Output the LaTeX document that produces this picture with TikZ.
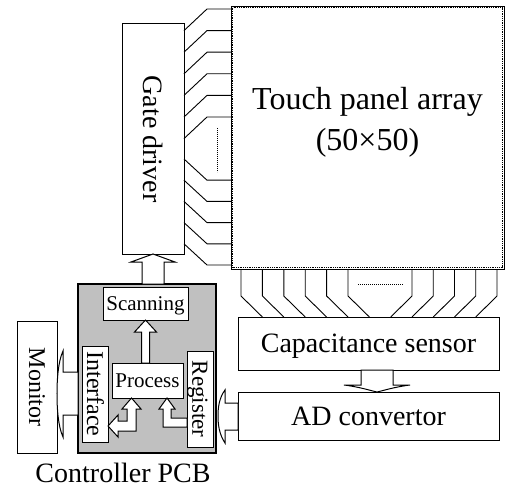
\documentclass[tikz,border=0pt]{standalone}
\usepackage{fontspec}
\setmainfont{Liberation Serif}
\usepackage{graphicx}
\definecolor{pcbgray}{RGB}{192,192,192}
\newcommand{\capbox}[1]{\raisebox{0pt}[0.66em][0pt]{#1}}
\newcommand{\vtxt}[1]{\rotatebox{-90}{\capbox{#1}}}
\newcommand{\fsA}{\fontsize{32bp}{40bp}\selectfont}
\newcommand{\fsB}{\fontsize{28bp}{34bp}\selectfont}
\newcommand{\fsC}{\fontsize{24bp}{29bp}\selectfont}
\newcommand{\fsD}{\fontsize{23bp}{28bp}\selectfont}
\newcommand{\fsE}{\fontsize{21bp}{25bp}\selectfont}
\begin{document}
\begin{tikzpicture}[x=1bp,y=-1bp,
  box/.style={draw, fill=white, line width=1bp, inner sep=0pt, outer sep=0pt},
  barrow/.style={draw, fill=white, line width=1bp, line join=miter},
  wire/.style={line width=0.9bp}]
\useasboundingbox (0,0) rectangle (505,491);
% touch panel
\node[box, line width=0.8bp, minimum width=273bp, minimum height=263bp] (tp) at (367.5,137.5) {};
\draw[dash pattern=on 0.9bp off 0.9bp, line width=1.4bp] (232.7,7.7) rectangle (502.3,267.3);
\node[font=\fsA, anchor=base] (tpl1) at (367.5,110) {Touch panel array};
\node[font=\fsA, anchor=base] (tpl2) at (367.5,151) {(50×50)};
% gate driver
\node[box, minimum width=62bp, minimum height=230bp, font=\fsB] (gd) at (153,139) {\vtxt{Gate driver}};
% sensor and converter
\node[box, minimum width=261bp, minimum height=53bp, font=\fsB] (cs) at (368.5,343.5) {\capbox{Capacitance sensor}};
\node[box, minimum width=261bp, minimum height=48bp, font=\fsB] (ad) at (368.5,416) {\capbox{AD convertor}};
% gate lines
\foreach \k in {0,...,5}{
  \pgfmathsetmacro{\py}{9+21.6*\k}
  \pgfmathsetmacro{\gy}{\py+21.6}
  \draw[wire] (gd.east |- 0,\gy) -- (207,\py) -- (tp.west |- 0,\py);
}
\foreach \k in {0,...,4}{
  \pgfmathsetmacro{\py}{265-21.2*\k}
  \pgfmathsetmacro{\gy}{\py-21.2}
  \draw[wire] (gd.east |- 0,\gy) -- (207,\py) -- (tp.west |- 0,\py);
}
\draw[dash pattern=on 0.8bp off 1.2bp, line width=1bp] (217,128) -- (217,172);
% sense lines
\foreach \k in {0,...,5}{
  \pgfmathsetmacro{\bx}{241+21.4*\k}
  \pgfmathsetmacro{\ex}{\bx+21.4}
  \draw[wire] (tp.south -| \bx,0) -- (\bx,296) -- (cs.north -| \ex,0);
}
\foreach \k in {0,...,4}{
  \pgfmathsetmacro{\bx}{497-21.25*\k}
  \pgfmathsetmacro{\ex}{\bx-21.25}
  \draw[wire] (tp.south -| \bx,0) -- (\bx,296) -- (cs.north -| \ex,0);
}
\draw[dash pattern=on 0.8bp off 1.2bp, line width=1bp] (358,284) -- (403,284);
% controller PCB
\node[box, fill=pcbgray, line width=1.5bp, minimum width=138bp, minimum height=169bp] (pcb) at (147,368.5) {};
\node[box, minimum width=85bp, minimum height=33bp, font=\fsE] (sc) at (145.5,303.5) {\capbox{Scanning}};
\node[box, minimum width=71bp, minimum height=35bp, font=\fsE] (pr) at (147.5,380.5) {\capbox{Process}};
\node[box, minimum width=26bp, minimum height=96bp, font=\fsC] (ifc) at (95,394) {\vtxt{Interface}};
\node[box, minimum width=26bp, minimum height=96bp, font=\fsD] (reg) at (200,399) {\vtxt{Register}};
\node[box, minimum width=40bp, minimum height=132bp, font=\fsC] (mon) at (37,387) {\vtxt{Monitor}};
\node[font=\fsB, anchor=base] (cap) at (123,482.5) {Controller PCB};
% block arrows
\draw[barrow] (gd.south) -- ++(22,8) -- ++(-11,0) -- ++(0,22) -- ++(-22,0) -- ++(0,-22) -- ++(-11,0) -- cycle;
\draw[barrow] (sc.south) -- ++(11,12) -- ++(-7,0) -- ++(0,31) -- ++(-8,0) -- ++(0,-31) -- ++(-7,0) -- cycle;
\draw[barrow] (mon.east |- ifc.west) .. controls (57,380) and (58,362) .. (63,351) -- (63,372) -- (pcb.west |- 0,372) -- (pcb.west |- 0,415) -- (63,415) -- (63,437) .. controls (58,426) and (57,408) .. (57,394) -- cycle;
\draw[barrow] (218,416) .. controls (218,408) and (219,398) .. (225,390) -- (225,403) -- (ad.west |- 0,403) -- (ad.west |- 0,430) -- (225,430) -- (225,443) .. controls (219,434) and (218,424) .. (218,416) -- cycle;
\draw[barrow] (ad.north -| 377,0) .. controls (372,391) and (360,387) .. (344,385) -- (361,385) -- (cs.south -| 361,0) -- (cs.south -| 393,0) -- (393,385) -- (410,385) .. controls (394,387) and (382,391) .. (377,392) -- cycle;
\draw[barrow] (pr.south -| 131.5,0) -- (141,409) -- (136,409) -- (136,431) -- (118,431) -- (118,437) -- (ifc.east |- 0,426) -- (118,415) -- (118,421) -- (127,421) -- (127,409) -- (122,409) -- cycle;
\draw[barrow] (pr.south -| 167,0) -- (175,409) -- (171,409) -- (171,418) -- (reg.west |- 0,418) -- (reg.west |- 0,427) -- (163,427) -- (163,409) -- (159,409) -- cycle;
\end{tikzpicture}
\end{document}
